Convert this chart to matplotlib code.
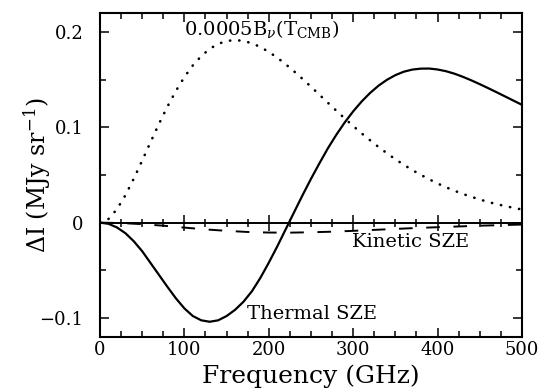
# -*- coding: utf-8 -*-
import matplotlib
matplotlib.use("Agg")
import matplotlib.pyplot as plt
import numpy as np
from matplotlib.ticker import MultipleLocator, FuncFormatter

# serif font, close to the PGPLOT look
plt.rcParams['font.family'] = ['DejaVu Serif']
plt.rcParams['mathtext.fontset'] = 'dejavuserif'
plt.rcParams['axes.unicode_minus'] = True

# frequency grid (GHz)
freq = np.arange(0, 510, 10)
# thermal SZE, MJy/sr
thermal = [0.0, -0.0012, -0.0050, -0.0110, -0.0195, -0.0300, -0.0425, -0.0550,
           -0.0675, -0.0795, -0.0900, -0.0980, -0.1025, -0.1040, -0.1025, -0.0980,
           -0.0915, -0.0830, -0.0720, -0.0580, -0.0420, -0.0250, -0.0070, 0.0110,
           0.0288, 0.0460, 0.0623, 0.0780, 0.0922, 0.1052, 0.1168, 0.1271,
           0.1361, 0.1437, 0.1499, 0.1548, 0.1584, 0.1606, 0.1616, 0.1617,
           0.1607, 0.1589, 0.1563, 0.1530, 0.1493, 0.1453, 0.1411, 0.1368,
           0.1324, 0.1280, 0.1236]
# 0.0005 x CMB blackbody, MJy/sr
cmb = [0.0, 0.0038, 0.0140, 0.0286, 0.0461, 0.0652, 0.0847, 0.1039,
       0.1219, 0.1383, 0.1528, 0.1650, 0.1748, 0.1824, 0.1876, 0.1906,
       0.1916, 0.1907, 0.1882, 0.1843, 0.1792, 0.1731, 0.1662, 0.1587,
       0.1508, 0.1426, 0.1342, 0.1258, 0.1175, 0.1093, 0.1014, 0.0937,
       0.0864, 0.0794, 0.0728, 0.0665, 0.0607, 0.0552, 0.0502, 0.0455,
       0.0411, 0.0371, 0.0335, 0.0301, 0.0271, 0.0243, 0.0217, 0.0194,
       0.0174, 0.0155, 0.0138]
# kinetic SZE on a coarser grid
freq_k = np.arange(0, 525, 25)
kinetic = [0.0, -0.0004, -0.0016, -0.0032, -0.0052, -0.0071, -0.0086, -0.0098,
           -0.0104, -0.0105, -0.0101, -0.0095, -0.0086, -0.0076, -0.0066, -0.0056,
           -0.0048, -0.0040, -0.0032, -0.0026, -0.0020]

x_min, x_max = 0, 500
y_min, y_max = -0.12, 0.22


def y_fmt(v, pos):
    # 0 without decimals, others with one
    if abs(v) < 1e-9:
        return '0'
    return f'{v:.1f}'.replace('-', '\u2212')


def draw():
    fig = plt.figure(figsize=(5.42, 3.90), dpi=100)
    ax = fig.add_axes([0.1845, 0.1359, 0.7786, 0.8308])

    # curves
    ax.plot(freq, thermal, color='black', lw=1.6, solid_capstyle='round')
    ax.plot(freq, cmb, color='black', lw=1.9, linestyle=(0, (0.1, 3.4)),
            dash_capstyle='round')
    ax.plot(freq_k, kinetic, color='black', lw=1.4, linestyle=(0, (7, 7)))

    ax.set_xlim(x_min, x_max)
    ax.set_ylim(y_min, y_max)

    # ticks on all four sides, pointing in
    ax.xaxis.set_major_locator(MultipleLocator(100))
    ax.xaxis.set_minor_locator(MultipleLocator(25))
    ax.yaxis.set_major_locator(MultipleLocator(0.1))
    ax.yaxis.set_minor_locator(MultipleLocator(0.05))
    ax.yaxis.set_major_formatter(FuncFormatter(y_fmt))
    ax.tick_params(which='both', direction='in', top=True, right=True,
                   width=1.1, labelsize=13)
    ax.tick_params(which='major', length=6.5)
    ax.tick_params(which='minor', length=4)
    ax.tick_params(axis='x', pad=3)
    ax.tick_params(axis='y', pad=12)
    for s in ax.spines.values():
        s.set_linewidth(1.5)

    # zero line with crossing ticks
    zero_frac = (0 - y_min) / (y_max - y_min)
    sec = ax.secondary_xaxis(zero_frac)
    sec.xaxis.set_major_locator(MultipleLocator(100))
    sec.xaxis.set_minor_locator(MultipleLocator(25))
    sec.tick_params(which='both', direction='inout', width=1.1,
                    labelbottom=False, labeltop=False)
    sec.tick_params(which='major', length=11.5)
    sec.tick_params(which='minor', length=5.8)
    for s in sec.spines.values():
        s.set_linewidth(1.4)

    # labels
    ax.set_xlabel('Frequency (GHz)', fontsize=18)
    ax.set_ylabel(r'$\Delta$I (MJy sr$^{-1}$)', fontsize=17)
    ax.xaxis.set_label_coords(0.5, -0.085)
    ax.yaxis.set_label_coords(-0.112, 0.5)

    # curve names
    ax.text(100, 0.197, r'0.0005B$_\nu$(T$_{\rm CMB}$)', fontsize=14,
            ha='left', va='baseline')
    ax.text(174, -0.1013, 'Thermal SZE', fontsize=14, ha='left', va='baseline')
    ax.text(299, -0.0259, 'Kinetic SZE', fontsize=14, ha='left', va='baseline')

    fig.savefig('out.png', dpi=100)


if __name__ == '__main__':
    draw()
